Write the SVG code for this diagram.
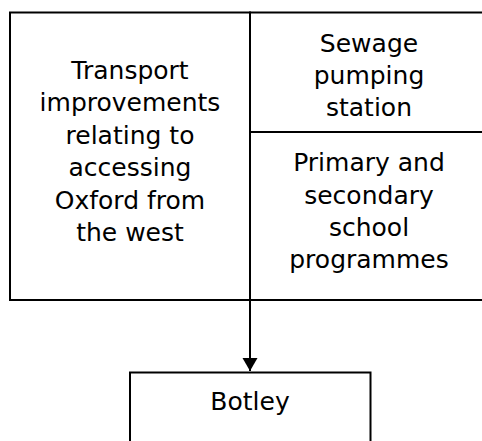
<svg xmlns="http://www.w3.org/2000/svg" width="482" height="441" viewBox="0 0 482 441">
<defs>
<style>
.box{fill:#fff;stroke:#000;stroke-width:2}
.t{font-family:"DejaVu Sans","Liberation Sans",sans-serif;font-size:25px;fill:#000;text-anchor:middle}
.c{stroke:#000;stroke-width:2;fill:none}
</style>
<marker id="ah" markerWidth="14" markerHeight="16" refX="13" refY="7.5" orient="auto" markerUnits="userSpaceOnUse">
<path d="M0,0 L13,7.5 L0,15 Z" fill="#000"/>
</marker>
</defs>
<rect width="482" height="441" fill="#fff"/>
<g id="transport">
<rect class="box" x="10" y="12.5" width="240" height="287.5"/>
<text class="t" x="130" y="78.5">Transport</text>
<text class="t" x="130" y="111">improvements</text>
<text class="t" x="130" y="143.5">relating to</text>
<text class="t" x="130" y="176">accessing</text>
<text class="t" x="130" y="208.5">Oxford from</text>
<text class="t" x="130" y="241">the west</text>
</g>
<g id="sewage">
<rect class="box" x="250" y="12.5" width="240" height="119.5"/>
<text class="t" x="369" y="52">Sewage</text>
<text class="t" x="369" y="84">pumping</text>
<text class="t" x="369" y="116">station</text>
</g>
<g id="school">
<rect class="box" x="250" y="132" width="240" height="168"/>
<text class="t" x="369" y="171">Primary and</text>
<text class="t" x="369" y="203.5">secondary</text>
<text class="t" x="369" y="236">school</text>
<text class="t" x="369" y="268">programmes</text>
</g>
<g id="botley">
<rect class="box" x="130" y="372.5" width="240.5" height="80"/>
<text class="t" x="250" y="409.5">Botley</text>
</g>
<g id="connectors">
<line class="c" x1="250" y1="300" x2="250" y2="371" marker-end="url(#ah)"/>
</g>
</svg>
